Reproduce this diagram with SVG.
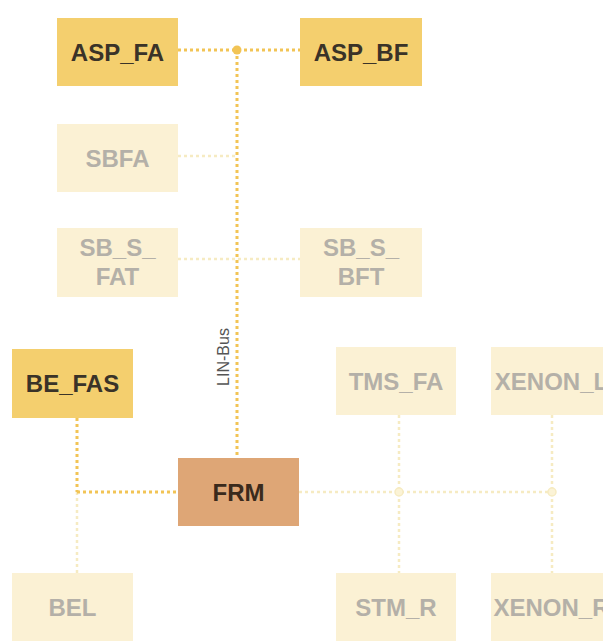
<svg xmlns="http://www.w3.org/2000/svg" width="603" height="641" viewBox="0 0 603 641">
<style>
.n rect{stroke:none}
.act rect{fill:#f4cf6e}
.fad rect{fill:#fbf1d4}
.frm rect{fill:#dea676}
text{font-family:"Liberation Sans",Arial,sans-serif;font-weight:bold;font-size:24px;text-anchor:middle}
.act text{fill:#3a3328}
.frm text{fill:#3a2a1c}
.fad text{fill:#b4b0a8}
.bus{stroke:#f2c455;stroke-width:3;stroke-dasharray:3 3;fill:none}
.faint{stroke:#f6ebc2;stroke-width:2.5;stroke-dasharray:3 3;fill:none}
.lbl{font-weight:normal;font-size:16px;fill:#555}
</style>
<rect width="603" height="641" fill="#ffffff"/>
<g id="connectors">
<line class="faint" x1="178" y1="156" x2="237" y2="156"/>
<line class="faint" x1="178" y1="259" x2="300" y2="259"/>
<line class="faint" x1="77" y1="492" x2="77" y2="573"/>
<line class="faint" x1="299" y1="492" x2="552" y2="492"/>
<line class="faint" x1="399" y1="415" x2="399" y2="573"/>
<line class="faint" x1="552" y1="415" x2="552" y2="573"/>
<circle cx="399" cy="492" r="4" fill="#fbf3d6" stroke="#f6ebc2" stroke-width="1.5"/>
<circle cx="552" cy="492" r="4" fill="#fbf3d6" stroke="#f6ebc2" stroke-width="1.5"/>
<line class="bus" x1="178" y1="50" x2="300" y2="50"/>
<line class="bus" x1="237" y1="50" x2="237" y2="458"/>
<line class="bus" x1="77" y1="418" x2="77" y2="492"/>
<line class="bus" x1="77" y1="492" x2="178" y2="492"/>
<circle cx="237" cy="50" r="4.5" fill="#f2c455"/>
<text class="lbl" transform="translate(229,357) rotate(-90)">LIN-Bus</text>
</g>
<g id="ASP_FA" class="n act"><rect x="57" y="18" width="121" height="68"/><text x="117.5" y="60.5">ASP_FA</text></g>
<g id="ASP_BF" class="n act"><rect x="300" y="18" width="122" height="68"/><text x="361" y="60.5">ASP_BF</text></g>
<g id="SBFA" class="n fad"><rect x="57" y="124" width="121" height="68"/><text x="117.5" y="166.5">SBFA</text></g>
<g id="SB_S_FAT" class="n fad"><rect x="57" y="228" width="121" height="69"/><text x="117.5" y="255.5">SB_S_</text><text x="117.5" y="284.5">FAT</text></g>
<g id="SB_S_BFT" class="n fad"><rect x="300" y="228" width="122" height="69"/><text x="361" y="255.5">SB_S_</text><text x="361" y="284.5">BFT</text></g>
<g id="BE_FAS" class="n act"><rect x="12" y="349" width="121" height="69"/><text x="72.5" y="392">BE_FAS</text></g>
<g id="TMS_FA" class="n fad"><rect x="336" y="347" width="120" height="68"/><text x="396" y="389.5">TMS_FA</text></g>
<g id="XENON_L" class="n fad"><rect x="491" y="347" width="121" height="68"/><text x="551.5" y="389.5">XENON_L</text></g>
<g id="FRM" class="n frm"><rect x="178" y="458" width="121" height="68"/><text x="238.5" y="500.5">FRM</text></g>
<g id="BEL" class="n fad"><rect x="12" y="573" width="121" height="68"/><text x="72.5" y="615.5">BEL</text></g>
<g id="STM_R" class="n fad"><rect x="336" y="573" width="120" height="68"/><text x="396" y="615.5">STM_R</text></g>
<g id="XENON_R" class="n fad"><rect x="491" y="573" width="121" height="68"/><text x="551.5" y="615.5">XENON_R</text></g>
</svg>
